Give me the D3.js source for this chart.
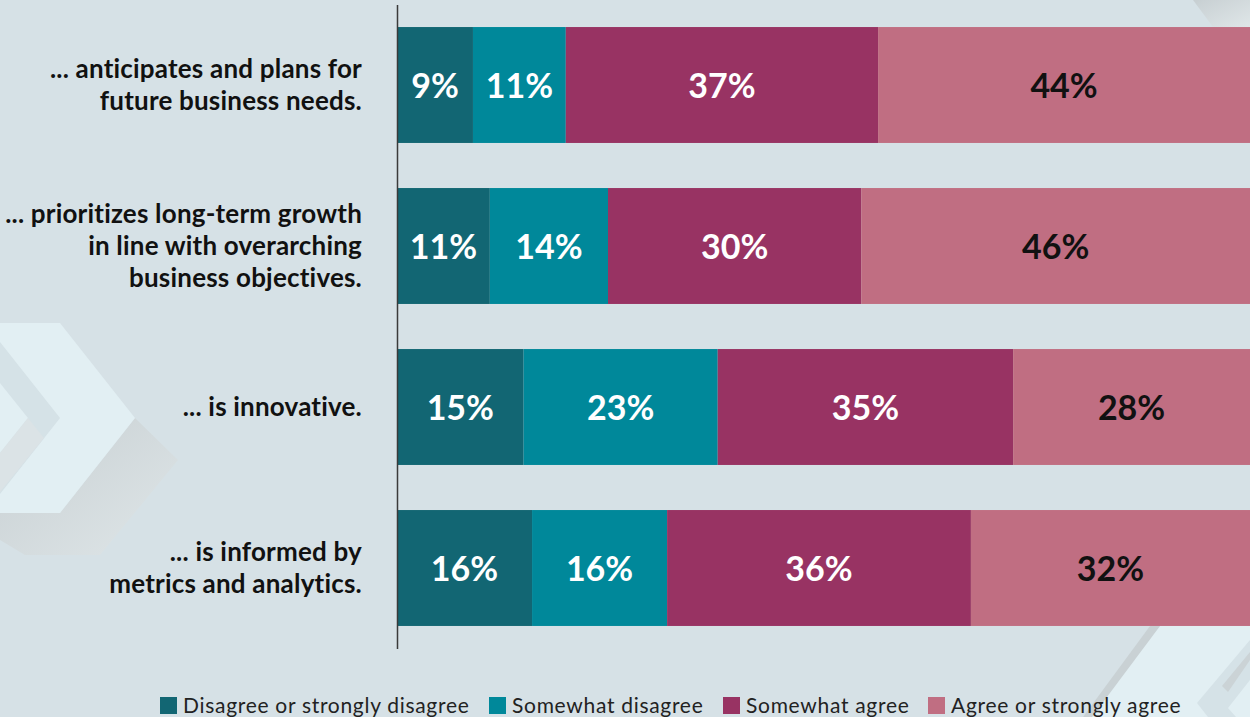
<!DOCTYPE html>
<html>
<head>
<meta charset="utf-8">
<script src="https://cdn.jsdelivr.net/npm/d3@7"></script>
<style>
  body { margin: 0; background: #d6e1e6; overflow: hidden; }
  text { font-family: Lato, 'Open Sans', sans-serif; }
</style>
</head>
<body>
<script>
const width = 1250;
const height = 717;

// data
const categories = [
  '... anticipates and plans for future business needs.',
  '... prioritizes long-term growth in line with overarching business objectives.',
  '... is innovative.',
  '... is informed by metrics and analytics.',
];
const categoryLines = [
  ['... anticipates and plans for', 'future business needs.'],
  ['... prioritizes long-term growth', 'in line with overarching', 'business objectives.'],
  ['... is innovative.'],
  ['... is informed by', 'metrics and analytics.'],
];
const seriesNames = ['Disagree or strongly disagree', 'Somewhat disagree', 'Somewhat agree', 'Agree or strongly agree'];
const disagree = [9, 11, 15, 16];
const somewhatDisagree = [11, 14, 23, 16];
const somewhatAgree = [37, 30, 35, 36];
const agree = [44, 46, 28, 32];
const seriesColors = ['#126673', '#00889a', '#983363', '#c06e82'];
const labelColors = ['#fff', '#fff', '#fff', '#111'];

// table for the stack
const table = categories.map((c, i) => ({
  category: c,
  [seriesNames[0]]: disagree[i],
  [seriesNames[1]]: somewhatDisagree[i],
  [seriesNames[2]]: somewhatAgree[i],
  [seriesNames[3]]: agree[i],
}));
const stacked = d3.stack().keys(seriesNames)(table);

const svg = d3.select('body').append('svg').attr('width', width).attr('height', height);

// background decoration (chevrons)
const deco = svg.append('g');
const defs = svg.append('defs');
const shade = defs.append('linearGradient').attr('id', 'shade').attr('x1', 0).attr('y1', 0).attr('x2', 1).attr('y2', 1);
shade.append('stop').attr('offset', '0%').attr('stop-color', '#c7cfd2');
shade.append('stop').attr('offset', '100%').attr('stop-color', '#dfe6e8');

const poly = (pts, fill) => deco.append('polygon').attr('points', pts.map((p) => p.join(',')).join(' ')).attr('fill', fill);
// left chevron
poly([[0, 513], [60, 513], [135, 418], [178, 460], [100, 555], [25, 555], [0, 540]], 'url(#shade)');
poly([[0, 323], [60, 323], [135, 418], [60, 513], [0, 513]], '#e2eff3');
poly([[0, 342], [60, 418], [0, 494], [0, 453], [28, 418], [0, 383]], '#d5e2e7');
poly([[0, 453], [28, 418], [44, 438], [0, 492]], '#dbe3e6');
// bottom right
poly([[1160, 626], [1250, 626], [1250, 717], [1083, 717]], '#e2eff3');
poly([[1150, 626], [1160, 626], [1092, 717], [1083, 717]], '#c9d1d4');
poly([[1250, 640], [1197, 703], [1208, 717], [1250, 717]], '#d5e2e7');
poly([[1250, 680], [1228, 708], [1236, 717], [1250, 717]], '#e2eff3');
poly([[1222, 686], [1250, 652], [1250, 660], [1228, 692]], '#cbd3d6');
// top right
poly([[1193, 0], [1250, 0], [1250, 27], [1213, 27]], 'url(#shade)');

// scales
const x = d3.scaleLinear([0, 100], [397, 1241]);
const y = d3.scaleBand(categories, [4.5, 648.5]).paddingInner(0.28).paddingOuter(0.14);

// bars
const layers = svg.append('g').selectAll('g').data(stacked).join('g')
  .attr('fill', (d, i) => seriesColors[i]);

// last segment runs off the right edge of the picture
const segEnd = (d, i) => (i === seriesNames.length - 1 ? Math.max(x(d[1]), width) : x(d[1]));

layers.selectAll('rect').data((s, i) => s.map((d) => ({ d, i }))).join('rect')
  .attr('x', (o) => x(o.d[0]))
  .attr('y', (o) => y(o.d.data.category))
  .attr('width', (o) => segEnd(o.d, o.i) - x(o.d[0]))
  .attr('height', y.bandwidth());

// value labels
layers.selectAll('text').data((s, i) => s.map((d) => ({ d, i }))).join('text')
  .attr('x', (o) => (x(o.d[0]) + Math.min(segEnd(o.d, o.i), width)) / 2)
  .attr('y', (o) => y(o.d.data.category) + y.bandwidth() / 2)
  .attr('dy', '0.39em')
  .attr('text-anchor', 'middle')
  .attr('fill', (o) => labelColors[o.i])
  .style('font-size', '34px')
  .style('font-weight', 700)
  .text((o) => `${o.d[1] - o.d[0]}%`);

// axis with multi-line category labels
const axis = svg.append('g')
  .attr('transform', `translate(${x(0)},0)`)
  .call(d3.axisLeft(y).tickSize(0).tickSizeOuter(0).tickPadding(35));
axis.select('.domain').attr('stroke', '#3a3a3a').attr('stroke-width', 1.5);
axis.selectAll('.tick text')
  .attr('fill', '#111')
  .style('font-size', '26px')
  .style('font-weight', 700)
  .style('letter-spacing', '0.2px')
  .attr('dy', null)
  .each(function (d) {
    const lines = categoryLines[categories.indexOf(d)];
    const t = d3.select(this).text(null);
    lines.forEach((l, k) => {
      t.append('tspan')
        .attr('x', -35)
        .attr('y', 9 + (k - (lines.length - 1) / 2) * 32)
        .text(l);
    });
  });

// legend
const legendX = [160, 489, 723, 928];
const legend = svg.append('g').selectAll('g').data(seriesNames).join('g')
  .attr('transform', (d, i) => `translate(${legendX[i]},697)`);
legend.append('rect').attr('width', 17).attr('height', 17).attr('fill', (d, i) => seriesColors[i]);
legend.append('text')
  .attr('x', 23)
  .attr('y', 16)
  .attr('fill', '#222')
  .style('font-size', '21px')
  .style('letter-spacing', '0.7px')
  .text((d) => d);
</script>
</body>
</html>
